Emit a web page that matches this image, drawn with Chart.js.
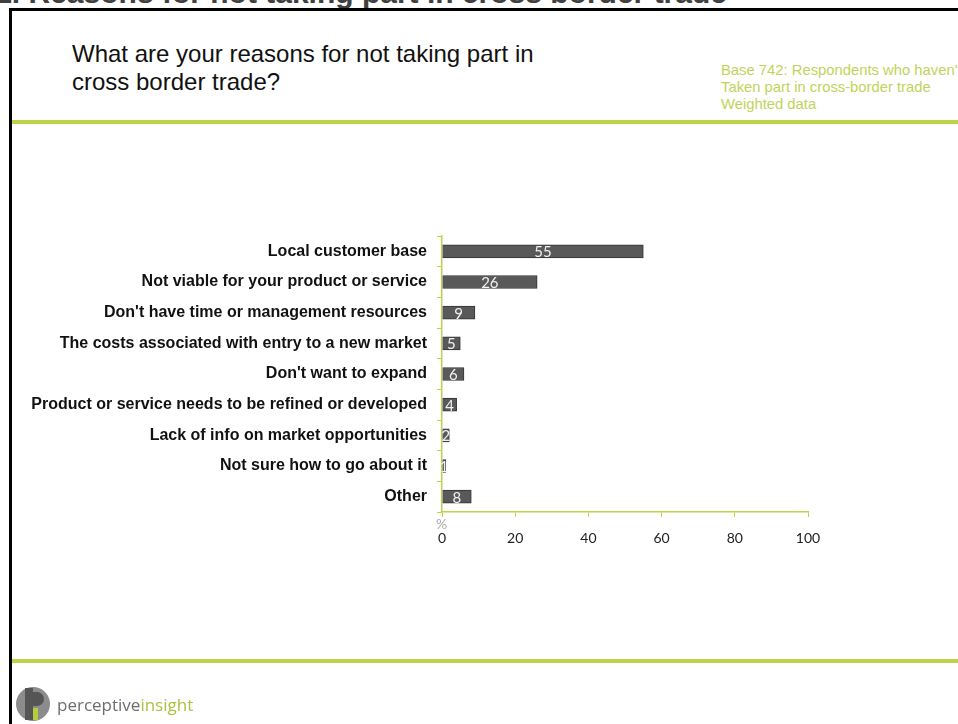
<!DOCTYPE html>
<html>
<head>
<meta charset="utf-8">
<title>Reasons for not taking part in cross border trade</title>
<script src="https://cdn.jsdelivr.net/npm/chart.js@4.4.1/dist/chart.umd.min.js"></script>
<style>
  html, body { margin: 0; padding: 0; background: #fff; overflow: hidden; }
  body { width: 958px; height: 724px; position: relative; font-family: "Liberation Sans", Arial, sans-serif; }
  #frame { position: absolute; left: 9px; top: 8px; width: 960px; height: 730px; border-left: 3px solid #000; border-top: 3px solid #000; }
  .heading { position: absolute; right: 231px; top: -22px; font-size: 30px; line-height: 30px; font-weight: bold; color: #404040; white-space: nowrap; }
  .question { position: absolute; left: 72px; top: 40px; font-size: 24px; line-height: 28px; color: #111; }
  .base { position: absolute; left: 721px; top: 62px; font-size: 14.8px; line-height: 17px; color: #bfd45a; white-space: nowrap; }
  .rule { position: absolute; left: 12px; width: 946px; height: 4px; background: #bcd447; }
  .pct { position: absolute; left: 436px; top: 515px; font-family: Lato, sans-serif; font-size: 14px; color: #aaa; }
  #wrap { position: absolute; left: 0; top: 0; width: 958px; height: 724px; }
  .logo { position: absolute; left: 15px; top: 686px; display: flex; align-items: center; }
  .logo span { font-family: "Open Sans", sans-serif; font-size: 17px; margin-left: 6px; }
</style>
</head>
<body>
<div class="heading">11. Reasons for not taking part in cross border trade</div>
<div id="frame"></div>
<div class="question">What are your reasons for not taking part in<br>cross border trade?</div>
<div class="base">Base 742: Respondents who haven't<br>Taken part in cross-border trade<br>Weighted data</div>
<div class="rule" style="top:120px"></div>
<div class="rule" style="top:659px"></div>
<div id="wrap"><canvas id="graficoRazoes"></canvas></div>
<div class="pct">%</div>
<div class="logo">
  <svg width="36" height="36" viewBox="0 0 36 36">
    <circle cx="18" cy="18" r="17" fill="#8c8c8c"/>
    <rect x="10" y="2" width="8" height="32" fill="#555"/>
    <path d="M18 6 h4 a7 7 0 0 1 0 14 h-4 z" fill="#555"/>
    <rect x="18" y="22" width="5" height="12" fill="#b5cc3c"/>
  </svg>
  <span><span style="color:#6d6d6d;margin:0">perceptive</span><span style="color:#a9c23f;margin:0">insight</span></span>
</div>

<script>
const categorias = [
    'Local customer base',
    'Not viable for your product or service',
    "Don't have time or management resources",
    'The costs associated with entry to a new market',
    "Don't want to expand",
    'Product or service needs to be refined or developed',
    'Lack of info on market opportunities',
    'Not sure how to go about it',
    'Other'
];

const percentuais = [55, 26, 9, 5, 6, 4, 2, 1, 8];

const ticksX = [0, 20, 40, 60, 80, 100];

const verde = '#bcd447';

// escreve o valor de cada barra no meio dela
const rotulosBarras = {
    id: 'rotulosBarras',
    afterDatasetsDraw(chart) {
        const ctx = chart.ctx;
        const meta = chart.getDatasetMeta(0);
        ctx.save();
        ctx.font = '15px Lato, sans-serif';
        ctx.fillStyle = '#f2f2f2';
        ctx.textAlign = 'center';
        ctx.textBaseline = 'middle';
        meta.data.forEach((barra, i) => {
            const { x, y, base } = barra.getProps(['x', 'y', 'base'], true);
            ctx.fillText(percentuais[i], (x + base) / 2, y + 1);
        });
        ctx.restore();
    }
};

const graficoRazoes = document.getElementById('graficoRazoes');

new Chart(graficoRazoes, {
    type: 'bar',
    data: {
        labels: categorias,
        datasets: [{
            data: percentuais,
            backgroundColor: '#595959',
            borderColor: '#333333',
            borderWidth: 1,
            barThickness: 13
        }]
    },
    options: {
        indexAxis: 'y',
        responsive: true,
        maintainAspectRatio: false,
        animation: false,
        layout: { padding: { top: 236, right: 150, bottom: 172, left: 0 } },
        plugins: {
            legend: { display: false },
            tooltip: { enabled: false }
        },
        scales: {
            x: {
                min: 0,
                max: 100,
                afterBuildTicks(scale) {
                    scale.ticks = ticksX.map(v => ({ value: v }));
                },
                afterFit(scale) { scale.height = 40; },
                grid: { drawOnChartArea: false, color: verde, tickLength: 5, lineWidth: 1 },
                border: { color: verde, width: 1.5 },
                ticks: { color: '#222', font: { family: 'Lato', size: 14 }, padding: 13 }
            },
            y: {
                afterFit(scale) { scale.width = 442; },
                grid: { drawOnChartArea: false, color: verde, tickLength: 5, offset: true },
                border: { color: verde, width: 1.5 },
                ticks: { color: '#111', font: { family: 'Liberation Sans', size: 16, weight: 'bold' }, padding: 10 }
            }
        }
    },
    plugins: [rotulosBarras]
});
</script>
</body>
</html>
